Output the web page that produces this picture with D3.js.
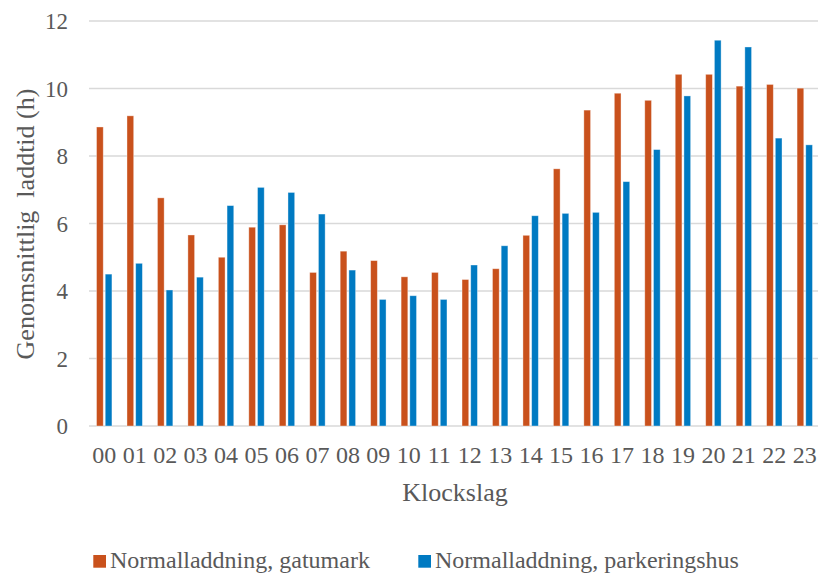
<!DOCTYPE html>
<html lang="sv">
<head>
    <meta charset="UTF-8">
    <title>Genomsnittlig laddtid per klockslag</title>
    <script src="https://d3js.org/d3.v7.min.js"></script>
    <style>
        body {
            margin: 0;
            background: #ffffff;
        }

        svg {
            display: block;
        }

        svg text {
            font-family: 'Liberation Serif', 'Times New Roman', serif;
            fill: #595959;
        }

        .grid line {
            stroke: #d9d9d9;
            stroke-width: 1.3;
        }

        .y-axis text {
            font-size: 23px;
        }

        .x-axis text {
            font-size: 24px;
        }
    </style>
</head>
<body>
    <svg width="818" height="575"></svg>

    <script>
        const hours = ['00', '01', '02', '03', '04', '05', '06', '07', '08', '09', '10', '11',
            '12', '13', '14', '15', '16', '17', '18', '19', '20', '21', '22', '23'];

        const seriesNames = ['Normalladdning, gatumark', 'Normalladdning, parkeringshus'];

        const gatumark = [8.86, 9.19, 6.76, 5.66, 5.00, 5.89, 5.96, 4.55, 5.18, 4.90, 4.42, 4.55,
            4.34, 4.66, 5.65, 7.62, 9.36, 9.86, 9.65, 10.42, 10.42, 10.07, 10.12, 10.01];

        const parkeringshus = [4.50, 4.82, 4.03, 4.41, 6.53, 7.07, 6.92, 6.28, 4.62, 3.75, 3.86, 3.75,
            4.77, 5.34, 6.23, 6.30, 6.33, 7.24, 8.19, 9.78, 11.43, 11.23, 8.53, 8.33];

        const yTicks = [0, 2, 4, 6, 8, 10, 12];

        const colors = ['#c9511c', '#007ac2'];

        const svg = d3.select('svg');
        const plot = { left: 89, right: 820, top: 21, bottom: 426 };

        const x = d3.scaleBand()
            .domain(hours)
            .range([plot.left, plot.right])
            .padding(0);

        const xInner = d3.scaleBand()
            .domain(seriesNames)
            .range([-7.7, 7.7])
            .paddingInner(0.23);

        const y = d3.scaleLinear()
            .domain([0, 12])
            .range([plot.bottom, plot.top]);

        // Gridlines
        svg.append('g')
            .attr('class', 'grid')
            .selectAll('line')
            .data(yTicks)
            .enter().append('line')
            .attr('x1', plot.left)
            .attr('x2', 818)
            .attr('y1', d => y(d))
            .attr('y2', d => y(d));

        // Bars
        const series = [gatumark, parkeringshus];
        const rows = [];
        series.forEach((vals, s) => {
            vals.forEach((v, i) => rows.push({ hour: hours[i], s: s, value: v }));
        });

        svg.append('g')
            .selectAll('rect')
            .data(rows)
            .enter().append('rect')
            .attr('x', d => x(d.hour) + x.bandwidth() / 2 + xInner(seriesNames[d.s]))
            .attr('y', d => y(d.value))
            .attr('width', xInner.bandwidth())
            .attr('height', d => y(0) - y(d.value))
            .attr('fill', d => colors[d.s])
            .attr('stroke', 'rgba(255,255,255,0.45)')
            .attr('stroke-width', 0.8);

        // Y axis labels
        const yAxis = svg.append('g')
            .attr('class', 'axis y-axis')
            .attr('transform', 'translate(68,0)')
            .call(d3.axisLeft(y).tickValues(yTicks).tickSize(0).tickPadding(0));
        yAxis.select('.domain').remove();
        yAxis.selectAll('text')
            .attr('dy', '0.34em');

        // X axis labels
        const xAxis = svg.append('g')
            .attr('class', 'axis x-axis')
            .attr('transform', `translate(0,${plot.bottom})`)
            .call(d3.axisBottom(x).tickSize(0).tickPadding(0));
        xAxis.select('.domain').remove();
        xAxis.selectAll('text')
            .attr('y', 36.5)
            .attr('dy', 0);

        // Axis titles
        svg.append('text')
            .attr('x', 455)
            .attr('y', 500.5)
            .attr('text-anchor', 'middle')
            .attr('font-size', 26)
            .text('Klockslag');

        svg.append('text')
            .attr('transform', 'translate(34,224) rotate(-90)')
            .attr('text-anchor', 'middle')
            .attr('font-size', 26)
            .attr('xml:space', 'preserve')
            .text('Genomsnittlig  laddtid (h)');

        // Legend
        const legendX = [93.3, 418.3];
        const legend = svg.append('g')
            .selectAll('g')
            .data(seriesNames)
            .enter().append('g')
            .attr('transform', (d, i) => `translate(${legendX[i]},555)`);

        legend.append('rect')
            .attr('width', 12.7)
            .attr('height', 12.7)
            .attr('fill', (d, i) => colors[i]);

        legend.append('text')
            .attr('x', 16.7)
            .attr('y', 12.5)
            .attr('font-size', 24)
            .text(d => d);
    </script>
</body>
</html>
